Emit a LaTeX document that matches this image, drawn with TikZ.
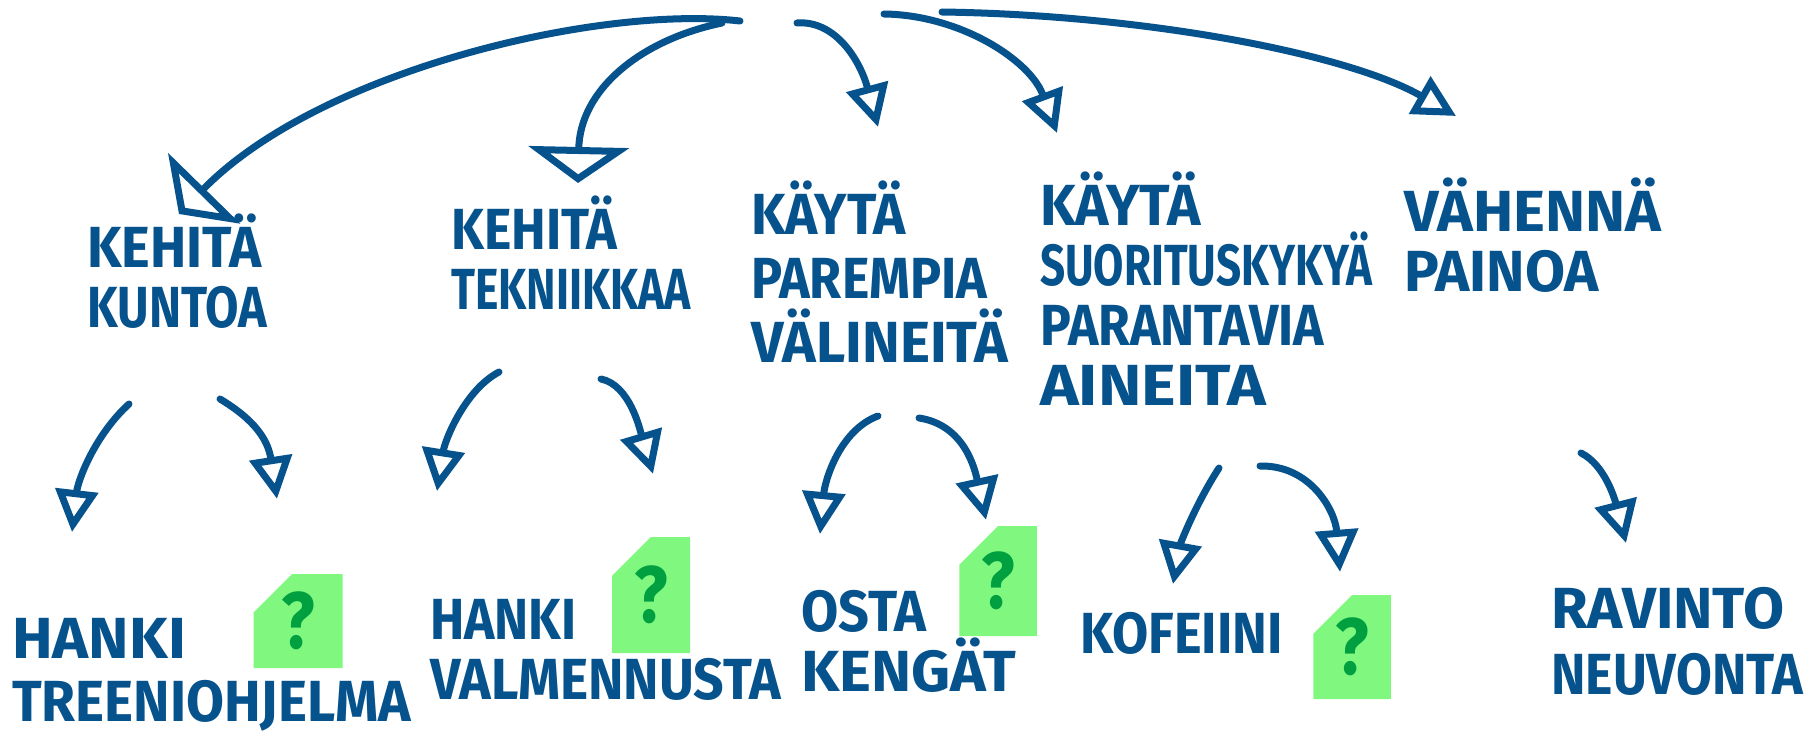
\documentclass[tikz,border=0pt]{standalone}
\usepackage{fontspec}
\setmainfont[FakeStretch=0.87]{Fira Sans}
\usetikzlibrary{arrows.meta,shapes.misc}
\definecolor{inkblue}{RGB}{6,82,140}
\definecolor{hilite}{RGB}{128,248,128}
\definecolor{qgreen}{RGB}{0,160,64}
\newcommand{\sx}[2]{\scalebox{#1}[1]{#2}}
\tikzset{
  lbl/.style={anchor=north west, inner sep=0pt, align=left, text=inkblue,
    font=\fontsize{58}{#1}\selectfont\bfseries},
  lbl/.default=60,
  conn/.style={draw=inkblue, line width=7pt, line cap=round, line join=round},
  bigarr/.style={conn, -{Triangle[open, length=36pt, width=100pt]}},
  arr/.style={conn, -{Triangle[open, length=42pt, width=42pt]}},
  badge/.style={chamfered rectangle, chamfered rectangle corners=north west,
    chamfered rectangle xsep=22pt, chamfered rectangle ysep=30pt,
    fill=hilite, draw=none, inner sep=0pt, text=qgreen,
    font=\fontsize{80}{80}\selectfont\bfseries},
}
\begin{document}
\begin{tikzpicture}[x=1pt, y=-1pt]
\useasboundingbox (0,0) rectangle (1812,738);

% green question badges
\node[badge, minimum width=89pt, minimum height=94pt] (q1) at (298,621) {?};
\node[badge, minimum width=78pt, minimum height=116pt] (q2) at (651,595) {?};
\node[badge, minimum width=67pt, minimum height=110pt] (q3) at (998,581) {?};
\node[badge, minimum width=70pt, minimum height=104pt] (q4) at (1352,647) {?};

% top level labels
\node[lbl=60] (kuntoa) at (87,214) {\sx{1.08}{KEHITÄ}\\\sx{0.96}{KUNTOA}};
\node[lbl=60] (tekn) at (451,196) {\sx{1.03}{KEHITÄ}\\\sx{0.88}{TEKNIIKKAA}};
\node[lbl=64] (valin) at (751,181) {\sx{1.08}{KÄYTÄ}\\\sx{1.03}{PAREMPIA}\\\sx{1.13}{VÄLINEITÄ}};
\node[lbl=60] (aineita) at (1040,172) {\sx{1.12}{KÄYTÄ}\\\sx{0.87}{SUORITUSKYKYÄ}\\\sx{1.02}{PARANTAVIA}\\\sx{1.3}{AINEITA}};
\node[lbl=60] (painoa) at (1404,178) {\sx{1.2}{VÄHENNÄ}\\\sx{1.15}{PAINOA}};

% bottom labels
\node[lbl=63] (treeni) at (12,618) {\sx{1.21}{HANKI}\\\sx{1.09}{TREENIOHJELMA}};
\node[lbl=60] (valm) at (430,599) {\sx{1.02}{HANKI}\\\sx{1.06}{VALMENNUSTA}};
\node[lbl=60] (kengat) at (801,590) {\sx{1.07}{OSTA}\\\sx{1.2}{KENGÄT}};
\node[lbl] (kofeiini) at (1080,612) {\sx{1.04}{KOFEIINI}};
\node[lbl=66] (neuvonta) at (1551,587) {\sx{1.18}{RAVINTO}\\\sx{1.03}{NEUVONTA}};

% start points of the strokes
\coordinate (r1) at (740,21);
\coordinate (r2) at (722,23);
\coordinate (r3) at (797,23);
\coordinate (r4) at (884,14);
\coordinate (r5) at (942,12);
\coordinate (k1) at (129,404);
\coordinate (k2) at (220,399);
\coordinate (t1) at (499,372);
\coordinate (t2) at (601,379);
\coordinate (v1) at (878,416);
\coordinate (v2) at (919,418);
\coordinate (a1) at (1219,468);
\coordinate (a2) at (1260,466);
\coordinate (p1) at (1581,453);

% top arrows
\draw[bigarr] (r1) .. controls (600,5) and (320,70) .. ([shift={(92pt,0pt)}]kuntoa.north west);
\draw[bigarr] (r2) .. controls (640,40) and (580,90) .. ([shift={(127pt,13pt)}]tekn.north west);
\draw[arr] (r3) .. controls (835,20) and (860,60) .. ([shift={(127pt,54pt)}]valin.north west);
\draw[arr] (r4) .. controls (960,15) and (1030,60) .. ([shift={(17pt,39pt)}]aineita.north west);
\draw[arr] (r5) .. controls (1150,15) and (1350,55) .. ([shift={(52pt,62pt)}]painoa.north west);

% second level arrows
\draw[arr] (k1) .. controls (95,435) and (78,480) .. ([shift={(60pt,86pt)}]treeni.north west);
\draw[arr] (k2) .. controls (255,420) and (268,440) .. ([shift={(-21pt,75pt)}]q1.north);
\draw[arr] (t1) .. controls (465,390) and (445,440) .. ([shift={(7pt,108pt)}]valm.north west);
\draw[arr] (t2) .. controls (630,385) and (640,430) .. ([shift={(2pt,63pt)}]q2.north);
\draw[arr] (v1) .. controls (840,430) and (825,480) .. ([shift={(19pt,56pt)}]kengat.north west);
\draw[arr] (v2) .. controls (965,425) and (975,470) .. ([shift={(-12pt,6pt)}]q3.north);
\draw[arr] (a1) .. controls (1195,505) and (1180,545) .. ([shift={(93pt,28pt)}]kofeiini.north west);
\draw[arr] (a2) .. controls (1310,465) and (1335,510) .. ([shift={(-12pt,23pt)}]q4.north);
\draw[arr] (p1) .. controls (1605,465) and (1615,500) .. ([shift={(75pt,44pt)}]neuvonta.north west);
\end{tikzpicture}
\end{document}
